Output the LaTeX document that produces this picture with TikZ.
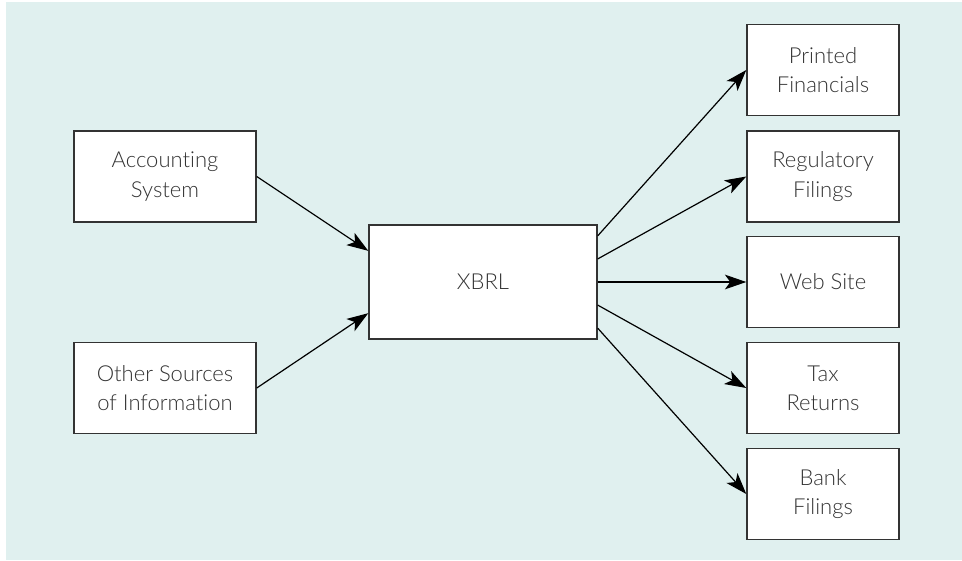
\documentclass[tikz,border=0pt]{standalone}
\usepackage{fontspec}
\setmainfont{Lato Light}[Ligatures={NoCommon}]
\usetikzlibrary{arrows.meta,calc}
\definecolor{bgmint}{HTML}{E0F0EF}
\definecolor{boxline}{HTML}{333333}
\definecolor{txtgray}{HTML}{333333}

\begin{document}
\begin{tikzpicture}[x=0.75pt,y=-0.75pt]
\useasboundingbox (0,0) rectangle (962,560);
\fill[bgmint] (6,2) rectangle (962,560);

\begin{scope}[every node/.style={rectangle,draw=boxline,line width=1.1pt,fill=white,align=center,text=txtgray,font=\fontsize{16.5}{22}\selectfont}]
\node (acc)[minimum width=136.5pt,minimum height=68.25pt] at (165,176.5) {Accounting\\System};
\node (oth)[minimum width=136.5pt,minimum height=68.25pt] at (165,388) {Other Sources\\of Information};
\node (xbrl)[minimum width=171pt,minimum height=85.5pt] at (483,282) {XBRL};

\node (prt)[minimum width=114pt,minimum height=68.25pt] at (823,70) {Printed\\Financials};
\node (reg)[minimum width=114pt,minimum height=68.25pt] at (823,176.5) {Regulatory\\Filings};
\node (web)[minimum width=114pt,minimum height=68.25pt] at (823,282) {Web Site};
\node (tax)[minimum width=114pt,minimum height=68.25pt] at (823,388) {Tax\\Returns};
\node (bank)[minimum width=114pt,minimum height=68.25pt] at (823,494) {Bank\\Filings};
\end{scope}

\begin{scope}[line width=0.9pt, -{Stealth[length=16pt,width=11pt,inset=4pt]}]
\draw (acc.east) -- ($(xbrl.north west)!0.23!(xbrl.south west)$);
\draw (oth.east) -- ($(xbrl.north west)!0.77!(xbrl.south west)$);

\draw ($(xbrl.north east)!0.1!(xbrl.south east)$) -- (prt.west);
\draw ($(xbrl.north east)!0.3!(xbrl.south east)$) -- (reg.west);
\draw (xbrl.east) -- (web.west);
\draw ($(xbrl.north east)!0.7!(xbrl.south east)$) -- (tax.west);
\draw ($(xbrl.north east)!0.9!(xbrl.south east)$) -- (bank.west);
\end{scope}
\end{tikzpicture}
\end{document}
